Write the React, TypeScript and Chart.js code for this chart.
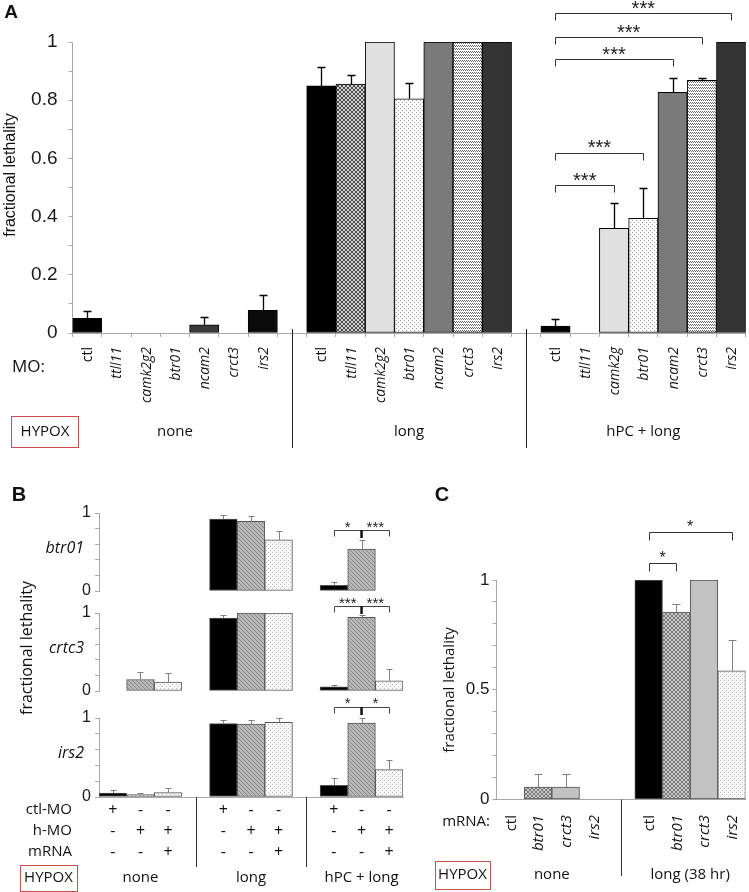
import React, { useEffect, useRef } from 'react';
import { Chart, registerables } from 'chart.js';
Chart.register(...registerables);
Chart.defaults.font.family = '"Liberation Sans", Arial, sans-serif';

const FIG_W = 749;
const FIG_H = 892;

// ---------------- Panel A data ----------------
const aGroupNames = ['none', 'long', 'hPC + long'];
const aMoNone = ['ctl', 'ttll11', 'camk2g2', 'btr01', 'ncam2', 'crct3', 'irs2'];
const aMoLong = ['ctl', 'ttll11', 'camk2g2', 'btr01', 'ncam2', 'crct3', 'irs2'];
const aMoHpc = ['ctl', 'ttll11', 'camk2g', 'btr01', 'ncam2', 'crct3', 'irs2'];
const aNone = [0.05, 0, 0, 0, 0.028, 0, 0.078];
const aNoneErr = [0.074, null, null, null, 0.054, null, 0.131];
const aLong = [0.849, 0.855, 1, 0.805, 1, 1, 1];
const aLongErr = [0.913, 0.888, null, 0.858, null, null, null];
const aHpc = [0.024, 0, 0.36, 0.394, 0.827, 0.868, 1];
const aHpcErr = [0.048, null, 0.446, 0.5, 0.875, 0.876, null];
const aYTickLabels = ['0', '0.2', '0.4', '0.6', '0.8', '1'];
// significance brackets in "hPC + long"
const aSigFrom = [0, 0, 0, 0, 0];
const aSigTo = [6, 5, 4, 3, 2];
const aSigLevel = [1.099, 1.016, 0.94, 0.62, 0.507];
const aSigText = ['***', '***', '***', '***', '***'];

// ---------------- Panel B data ----------------
const bRowNames = ['btr01', 'crtc3', 'irs2'];
const bGroupNames = ['none', 'long', 'hPC + long'];
const bCtlMO = ['+', '-', '-'];
const bHMO = ['-', '+', '+'];
const bMRNA = ['-', '-', '+'];
const bBtr01 = [0, 0, 0, 0.923, 0.894, 0.656, 0.073, 0.537, 0];
const bBtr01Err = [null, null, null, 0.97, 0.96, 0.77, 0.116, 0.65, null];
const bCrtc3 = [0, 0.148, 0.113, 0.934, 1, 1, 0.052, 0.944, 0.13];
const bCrtc3Err = [null, 0.244, 0.23, 0.98, null, null, 0.083, 0.978, 0.28];
const bIrs2 = [0.05, 0.03, 0.056, 0.929, 0.924, 0.945, 0.148, 0.937, 0.347];
const bIrs2Err = [0.085, 0.056, 0.114, 0.98, 0.98, 1.005, 0.24, 1.0, 0.464];
const bSigLeft = ['*', '***', '*'];
const bSigRight = ['***', '***', '*'];
const bSigLevel = [0.78, 1.09, 1.14];

// ---------------- Panel C data ----------------
const cGroupNames = ['none', 'long (38 hr)'];
const cMRNA = ['ctl', 'btr01', 'crct3', 'irs2'];
const cNone = [0, 0.057, 0.057, 0];
const cNoneErr = [null, 0.114, 0.114, null];
const cLong = [1, 0.854, 1, 0.586];
const cLongErr = [null, 0.889, null, 0.728];
const cSigFrom = [0, 0];
const cSigTo = [3, 1];
const cSigLevel = [1.22, 1.079];
const cSigText = ['*', '*'];

// ---------------- styles ----------------
const aFillNone = ['#000000', '#000000', '#000000', '#000000', '#3a3a3a', '#000000', '#0a0a0a'];
const aFillLong = ['#000000', 'hatchA', '#e0e0e0', 'dotsA', '#7a7a7a', 'waveA', '#333333'];
const bFill = ['#000000', 'diagB', 'dotsB'];
const cFill = ['#000000', 'hatchC', '#c2c2c2', 'dotsB'];
const SANS = '"Open Sans", "Noto Sans", sans-serif';
const ARIAL = '"Liberation Sans", Arial, sans-serif';
const BOX_RED = '#c9504a';

type Area = { l: number; t: number; r: number; b: number };

function withGaps<T>(groups: T[][], gap: T): T[] {
  const out: T[] = [];
  groups.forEach((g, i) => {
    if (i > 0) out.push(gap);
    out.push(...g);
  });
  return out;
}

function makePatterns(ctx: CanvasRenderingContext2D) {
  const tile = (w: number, h: number, bg: string, fg: string, px: number[][]) => {
    const c = document.createElement('canvas');
    c.width = w;
    c.height = h;
    const g = c.getContext('2d')!;
    g.fillStyle = bg;
    g.fillRect(0, 0, w, h);
    g.fillStyle = fg;
    px.forEach(([x, y]) => g.fillRect(x, y, 1, 1));
    return ctx.createPattern(c, 'repeat')!;
  };
  const X = [[0, 0], [1, 1], [2, 2], [3, 3], [3, 0], [2, 1], [1, 2], [0, 3]];
  return {
    hatchA: tile(4, 4, '#d2d2d2', '#4a4a4a', X),
    dotsA: tile(4, 4, '#ffffff', '#9a9a9a', [[0, 0], [2, 2]]),
    waveA: tile(4, 3, '#ffffff', '#6a6a6a', [[0, 0], [1, 1], [2, 0], [3, 1]]),
    diagB: tile(4, 4, '#b9b9b9', '#858585', [[0, 0], [1, 1], [2, 2], [3, 3]]),
    dotsB: tile(4, 4, '#f7f7f7', '#c2c2c2', [[0, 0], [2, 2]]),
    hatchC: tile(4, 4, '#cacaca', '#7a7a7a', X),
  } as Record<string, CanvasPattern>;
}

function text(ctx: CanvasRenderingContext2D, s: string, x: number, y: number, font: string, align: CanvasTextAlign = 'center', color = '#111') {
  ctx.save();
  ctx.font = font;
  ctx.fillStyle = color;
  ctx.textAlign = align;
  ctx.textBaseline = 'middle';
  ctx.fillText(s, x, y);
  ctx.restore();
}

function rotText(ctx: CanvasRenderingContext2D, s: string, x: number, y: number, font: string, align: CanvasTextAlign, color = '#111') {
  ctx.save();
  ctx.translate(x, y);
  ctx.rotate(-Math.PI / 2);
  ctx.font = font;
  ctx.fillStyle = color;
  ctx.textAlign = align;
  ctx.textBaseline = 'middle';
  ctx.fillText(s, 0, 0);
  ctx.restore();
}

function stars(ctx: CanvasRenderingContext2D, s: string, x: number, yc: number, size: number) {
  ctx.save();
  ctx.font = `${size}px ${ARIAL}`;
  ctx.fillStyle = '#222';
  ctx.textAlign = 'center';
  ctx.textBaseline = 'alphabetic';
  ctx.fillText(s, x, yc + 0.57 * size);
  ctx.restore();
}

function vline(ctx: CanvasRenderingContext2D, x: number, y1: number, y2: number, color: string, lw = 1) {
  ctx.save();
  ctx.strokeStyle = color;
  ctx.lineWidth = lw;
  ctx.beginPath();
  const px = Math.round(x) + 0.5;
  ctx.moveTo(px, y1);
  ctx.lineTo(px, y2);
  ctx.stroke();
  ctx.restore();
}

function bracket(ctx: CanvasRenderingContext2D, x1: number, x2: number, y: number, drop: number, color: string, lw = 1) {
  ctx.save();
  ctx.strokeStyle = color;
  ctx.lineWidth = lw;
  const yy = Math.round(y) + 0.5;
  ctx.beginPath();
  ctx.moveTo(Math.round(x1) + 0.5, yy + drop);
  ctx.lineTo(Math.round(x1) + 0.5, yy);
  ctx.lineTo(Math.round(x2) + 0.5, yy);
  ctx.lineTo(Math.round(x2) + 0.5, yy + drop);
  ctx.stroke();
  ctx.restore();
}

function box(ctx: CanvasRenderingContext2D, x: number, y: number, w: number, h: number) {
  ctx.save();
  ctx.strokeStyle = BOX_RED;
  ctx.lineWidth = 1;
  ctx.strokeRect(Math.round(x) + 0.5, Math.round(y) + 0.5, w, h);
  ctx.restore();
}

function drawErrors(chart: any, errs: (number | null)[], color: string, lw: number, cap: number) {
  const ctx = chart.ctx;
  const ys = chart.scales.y;
  const meta = chart.getDatasetMeta(0);
  ctx.save();
  ctx.strokeStyle = color;
  ctx.lineWidth = lw;
  errs.forEach((e, i) => {
    if (e == null) return;
    const el = meta.data[i];
    if (!el || !isFinite(el.y)) return;
    const x = Math.round(el.x) + 0.5;
    const y1 = Math.round(ys.getPixelForValue(e)) + 0.5;
    ctx.beginPath();
    ctx.moveTo(x, el.y);
    ctx.lineTo(x, y1);
    ctx.moveTo(x - cap / 2, y1);
    ctx.lineTo(x + cap / 2, y1);
    ctx.stroke();
  });
  ctx.restore();
}

type YCfg = { step: number; pad: number; size: number; cb: (v: number) => string };

function buildChart(
  canvas: HTMLCanvasElement,
  area: Area,
  labels: string[],
  values: (number | null)[],
  fills: any[],
  borderColor: string,
  borderWidth: number,
  y: YCfg,
  xAxis: { show: boolean; ticks: number },
  draw: (c: any) => void
) {
  return new Chart(canvas, {
    type: 'bar',
    data: {
      labels,
      datasets: [
        {
          data: values as any,
          backgroundColor: fills,
          borderColor,
          borderWidth,
          borderSkipped: false,
          barPercentage: 1,
          categoryPercentage: 1,
        },
      ],
    },
    options: {
      responsive: false,
      animation: false,
      events: [],
      devicePixelRatio: 1,
      layout: { autoPadding: false, padding: { left: 0, top: area.t, right: FIG_W - area.r, bottom: 0 } },
      plugins: { legend: { display: false }, tooltip: { enabled: false } },
      scales: {
        x: {
          type: 'category',
          offset: true,
          afterFit: (s: any) => {
            s.height = FIG_H - area.b;
          },
          border: { display: xAxis.show, color: '#a8a8a8', width: 1 },
          grid: {
            display: xAxis.show,
            drawOnChartArea: false,
            drawTicks: xAxis.ticks > 0,
            tickLength: xAxis.ticks,
            color: '#a8a8a8',
            offset: true,
          },
          ticks: { display: false },
        },
        y: {
          min: 0,
          max: 1,
          afterFit: (s: any) => {
            s.width = area.l;
          },
          border: { display: true, color: '#a8a8a8', width: 1 },
          grid: { drawOnChartArea: false, drawTicks: true, tickLength: 4, color: '#a8a8a8' },
          ticks: {
            stepSize: y.step,
            autoSkip: false,
            padding: y.pad,
            color: '#1a1a1a',
            font: { size: y.size, family: ARIAL },
            callback: (v: any) => y.cb(Number(v)),
          },
        },
      } as any,
    },
    plugins: [{ id: 'extras', afterDraw: (c: any) => draw(c) }],
  });
}

export default function App() {
  const refA = useRef<HTMLCanvasElement>(null);
  const refB1 = useRef<HTMLCanvasElement>(null);
  const refB2 = useRef<HTMLCanvasElement>(null);
  const refB3 = useRef<HTMLCanvasElement>(null);
  const refC = useRef<HTMLCanvasElement>(null);

  useEffect(() => {
    const charts: Chart[] = [];
    const pats = makePatterns(refA.current!.getContext('2d')!);
    const res = (k: string) => (pats[k] ? pats[k] : k);

    // ---------- Panel A ----------
    const aLabels = withGaps([aMoNone, aMoLong, aMoHpc], '');
    const aValues = withGaps<number | null>([aNone, aLong, aHpc], null);
    const aErrs = withGaps<number | null>([aNoneErr, aLongErr, aHpcErr], null);
    const aFills = withGaps([aFillNone, aFillLong, aFillLong.map((f, i) => (i === 0 ? '#000000' : f))], '#ffffff').map(res);
    const aArea: Area = { l: 72.5, t: 42, r: 745.75, b: 333 };
    charts.push(
      buildChart(
        refA.current!,
        aArea,
        aLabels,
        aValues,
        aFills,
        '#000000',
        1,
        {
          step: 0.1,
          pad: 11,
          size: 19,
          cb: (v) => {
            const n = Math.round(v * 10);
            return n % 2 === 0 ? aYTickLabels[n / 2] : '';
          },
        },
        { show: true, ticks: 4 },
        (chart) => {
          const ctx = chart.ctx;
          const xs = chart.scales.x;
          const ys = chart.scales.y;
          drawErrors(chart, aErrs, '#000', 1.3, 8);
          aLabels.forEach((lab, i) => {
            if (!lab) return;
            const st = lab === 'ctl' ? 'normal' : 'italic';
            rotText(ctx, lab, xs.getPixelForValue(i) + 1, 347, `${st} 14px ${SANS}`, 'right');
          });
          // group separators
          [7, 15].forEach((gi) => vline(ctx, xs.getPixelForValue(gi), ys.getPixelForValue(0) - 4, 448, '#222'));
          // group labels
          aGroupNames.forEach((g, gi) => {
            const x = (xs.getPixelForValue(gi * 8) + xs.getPixelForValue(gi * 8 + 6)) / 2;
            text(ctx, g, x, 432, `15px ${SANS}`);
          });
          text(ctx, 'MO:', 12, 367, `17px ${SANS}`, 'left');
          box(ctx, 11, 416, 67, 31);
          text(ctx, 'HYPOX', 45, 432, `15px ${SANS}`);
          rotText(ctx, 'fractional lethality', 11, 175, `16px ${ARIAL}`, 'center');
          text(ctx, 'A', 11, 13, `bold 19px ${ARIAL}`);
          // brackets
          aSigLevel.forEach((lv, k) => {
            const x1 = xs.getPixelForValue(16 + aSigFrom[k]);
            const x2 = xs.getPixelForValue(16 + aSigTo[k]);
            const yb = ys.getPixelForValue(lv);
            bracket(ctx, x1, x2, yb, 7, '#333');
            stars(ctx, aSigText[k], (x1 + x2) / 2, yb - 9.5, 20);
          });
        }
      )
    );

    // ---------- Panel B ----------
    const bLabels = withGaps(
      bGroupNames.map((g) => [`${g}:ctl-MO`, `${g}:h-MO`, `${g}:mRNA`]),
      ''
    ).map((s, i) => (s === '' ? `gap${i}` : s));
    const bFills = withGaps([bFill, bFill, bFill], '#ffffff').map(res);
    const bData = [bBtr01, bCrtc3, bIrs2];
    const bErr = [bBtr01Err, bCrtc3Err, bIrs2Err];
    const bAreas: Area[] = [
      { l: 99, t: 513, r: 403, b: 591 },
      { l: 99, t: 613, r: 403, b: 691 },
      { l: 99, t: 718, r: 403, b: 797 },
    ];
    const bRefs = [refB1, refB2, refB3];
    const bIdx = [0, 1, 2, 4, 5, 6, 8, 9, 10];
    bRowNames.forEach((row, r) => {
      const vals = withGaps<number | null>([bData[r].slice(0, 3), bData[r].slice(3, 6), bData[r].slice(6, 9)], null);
      const errs = withGaps<number | null>([bErr[r].slice(0, 3), bErr[r].slice(3, 6), bErr[r].slice(6, 9)], null);
      charts.push(
        buildChart(
          bRefs[r].current!,
          bAreas[r],
          bLabels,
          vals,
          bFills,
          '#555555',
          1,
          {
            step: 0.2,
            pad: 4,
            size: 16,
            cb: (v) => {
              const n = Math.round(v * 5);
              return n === 0 ? '0' : n === 5 ? '1' : '';
            },
          },
          { show: r === 2, ticks: 0 },
          (chart) => {
            const ctx = chart.ctx;
            const xs = chart.scales.x;
            const ys = chart.scales.y;
            drawErrors(chart, errs, '#808080', 1, 6);
            text(ctx, row, 84, ys.getPixelForValue(0.55), `italic 16px ${SANS}`, 'right');
            const x1 = xs.getPixelForValue(8);
            const xm = xs.getPixelForValue(9);
            const x2 = xs.getPixelForValue(10);
            const yb = ys.getPixelForValue(bSigLevel[r]);
            bracket(ctx, x1, x2, yb, 6, '#444');
            ctx.save();
            ctx.strokeStyle = '#111';
            ctx.lineWidth = 2.5;
            ctx.beginPath();
            ctx.moveTo(xm, Math.round(yb));
            ctx.lineTo(xm, Math.round(yb) + 8);
            ctx.stroke();
            ctx.restore();
            stars(ctx, bSigLeft[r], (x1 + xm) / 2, yb - 7, 15);
            stars(ctx, bSigRight[r], (xm + x2) / 2, yb - 7, 15);
            if (r === 0) text(ctx, 'B', 19, 495, `bold 20px ${ARIAL}`);
            if (r === 1) rotText(ctx, 'fractional lethality', 27, 648, `16px ${SANS}`, 'center');
            if (r === 2) {
              const rows: [string, string[], number][] = [
                ['ctl-MO', bCtlMO, 810],
                ['h-MO', bHMO, 831],
                ['mRNA', bMRNA, 852],
              ];
              rows.forEach(([name, signs, yy]) => {
                text(ctx, name, 72, yy, `15px ${SANS}`, 'right');
                bIdx.forEach((ci, k) => {
                  text(ctx, signs[k % 3], xs.getPixelForValue(ci), yy, `16px ${SANS}`);
                });
              });
              [3, 7].forEach((gi) => vline(ctx, xs.getPixelForValue(gi), ys.getPixelForValue(0), 867, '#333'));
              bGroupNames.forEach((g, gi) => {
                text(ctx, g, xs.getPixelForValue(gi * 4 + 1), 878, `15px ${SANS}`);
              });
              box(ctx, 20, 865, 57, 26);
              text(ctx, 'HYPOX', 48.5, 878, `15px ${SANS}`);
            }
          }
        )
      );
    });

    // ---------- Panel C ----------
    const cLabels = withGaps([cMRNA, cMRNA], '');
    const cValues = withGaps<number | null>([cNone, cLong], null);
    const cErrs = withGaps<number | null>([cNoneErr, cLongErr], null);
    const cFills = withGaps([cFill, cFill], '#ffffff').map(res);
    const cArea: Area = { l: 496.5, t: 580, r: 745.5, b: 799.5 };
    charts.push(
      buildChart(
        refC.current!,
        cArea,
        cLabels,
        cValues,
        cFills,
        '#555555',
        1,
        {
          step: 0.1,
          pad: 3,
          size: 17,
          cb: (v) => {
            const n = Math.round(v * 10);
            return n === 0 ? '0' : n === 5 ? '0.5' : n === 10 ? '1' : '';
          },
        },
        { show: true, ticks: 0 },
        (chart) => {
          const ctx = chart.ctx;
          const xs = chart.scales.x;
          const ys = chart.scales.y;
          drawErrors(chart, cErrs, '#808080', 1, 8);
          cLabels.forEach((lab, i) => {
            if (!lab) return;
            const st = lab === 'ctl' ? 'normal' : 'italic';
            rotText(ctx, lab, xs.getPixelForValue(i) + 1, 815, `${st} 15px ${SANS}`, 'right');
          });
          text(ctx, 'mRNA:', 490, 822, `15px ${SANS}`, 'right');
          vline(ctx, xs.getPixelForValue(4), ys.getPixelForValue(0), 876, '#333');
          cGroupNames.forEach((g, gi) => {
            const x = (xs.getPixelForValue(gi * 5) + xs.getPixelForValue(gi * 5 + 3)) / 2;
            text(ctx, g, x, 875, `15px ${SANS}`);
          });
          box(ctx, 435, 861, 55, 28);
          text(ctx, 'HYPOX', 462.5, 875, `15px ${SANS}`);
          rotText(ctx, 'fractional lethality', 450, 690, `15px ${SANS}`, 'center');
          text(ctx, 'C', 442, 495, `bold 20px ${ARIAL}`);
          cSigLevel.forEach((lv, k) => {
            const x1 = xs.getPixelForValue(5 + cSigFrom[k]);
            const x2 = xs.getPixelForValue(5 + cSigTo[k]);
            const yb = ys.getPixelForValue(lv);
            bracket(ctx, x1, x2, yb, 8, '#333');
            stars(ctx, cSigText[k], (x1 + x2) / 2, yb - 8.5, 16);
          });
        }
      )
    );

    return () => charts.forEach((c) => c.destroy());
  }, []);

  const cv = (r: React.RefObject<HTMLCanvasElement | null>) => (
    <canvas ref={r} width={FIG_W} height={FIG_H} style={{ position: 'absolute', left: 0, top: 0, width: FIG_W, height: FIG_H }} />
  );

  return (
    <div style={{ position: 'absolute', left: 0, top: 0, width: FIG_W, height: FIG_H, background: '#ffffff', overflow: 'hidden' }}>
      {cv(refA)}
      {cv(refB1)}
      {cv(refB2)}
      {cv(refB3)}
      {cv(refC)}
    </div>
  );
}
